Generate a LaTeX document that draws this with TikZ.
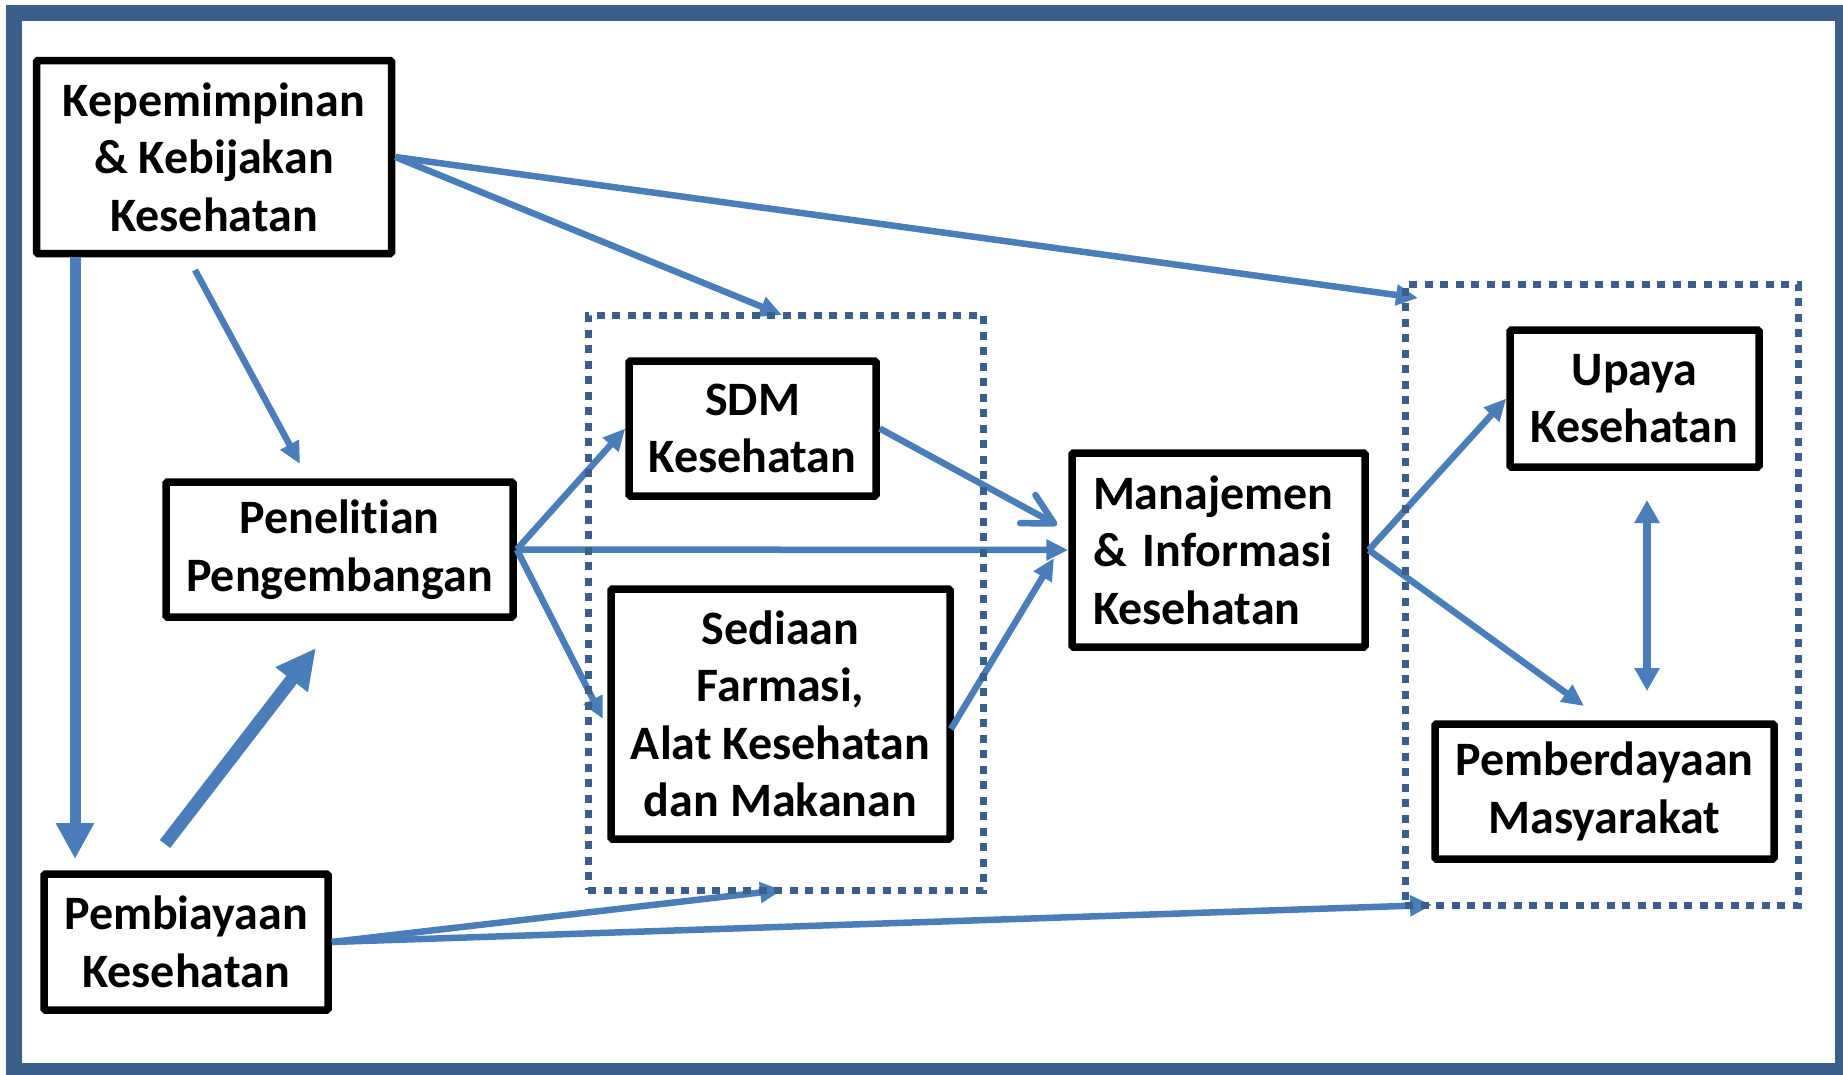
\documentclass[tikz,border=0pt]{standalone}
\usepackage{fontspec}
\setmainfont{Carlito}[Ligatures={NoCommon}]
\usetikzlibrary{arrows.meta}
\definecolor{arrowblue}{RGB}{74,126,187}
\definecolor{frameblue}{RGB}{58,95,139}
\begin{document}
\begin{tikzpicture}[x=1pt,y=-1pt,
  box/.style={draw=black, line width=7.5pt, fill=white, inner sep=0pt, rounded corners=1.5pt,
    align=center, font=\fontsize{48}{57.5}\selectfont\bfseries},
  grp/.style={draw=frameblue, line width=7pt, dash pattern=on 8pt off 7.5pt},
  conn/.style={draw=arrowblue, line width=6.5pt, -{Triangle[length=22pt,width=20pt]}},
  openconn/.style={draw=arrowblue, line width=6.5pt, -{Straight Barb[length=30pt,width=32pt,round]}},
]
\useasboundingbox (0,0) rectangle (1843,1074);
\fill[white] (0,0) rectangle (1843,1074);
\draw[frameblue, line width=16pt] (14,13) rectangle (1843,1071);

% boxes
\node[box, minimum width=355pt, minimum height=193pt] (lead) at (214,157) {Kepemimpinan\\\& Kebijakan\\Kesehatan};
\node[box, minimum width=347pt, minimum height=135pt] (res) at (339.5,549.5) {Penelitian\\Pengembangan};
\node[box, minimum width=247pt, minimum height=135pt] (sdm) at (752.5,428.5) {SDM\\Kesehatan};
\node[box, minimum width=339pt, minimum height=250pt] (sed) at (780.5,714) {Sediaan\\Farmasi,\\Alat Kesehatan\\dan Makanan};
\node[box, minimum width=293pt, minimum height=194pt, text width=251pt, align=left] (man) at (1218.5,550) {Manajemen\\\& Informasi\\Kesehatan};
\node[box, minimum width=249pt, minimum height=137pt] (upa) at (1634.5,398.5) {Upaya\\Kesehatan};
\node[box, minimum width=339pt, minimum height=135pt] (pem) at (1604.5,791.5) {Pemberdayaan\\Masyarakat};
\node[box, minimum width=284pt, minimum height=136pt] (fin) at (186,942) {Pembiayaan\\Kesehatan};

% free ends
\coordinate (t1) at (1418,298);
\coordinate (t2) at (782,315);
\coordinate (s3) at (195,270);
\coordinate (t3) at (300,464);
\coordinate (s5) at (165,844);
\coordinate (t5) at (316,648);
\coordinate (t6) at (782,890);
\coordinate (t7) at (1432,905);
\coordinate (t10) at (603,719);
\coordinate (t11) at (1057,525);
\coordinate (s12) at (951,729);
\coordinate (t12) at (1054,558);
\coordinate (t14) at (1584,706);
\coordinate (d1) at (1647,500);
\coordinate (d2) at (1647,691);

% connectors
\draw[conn] (lead.east) -- (t1);
\draw[conn] (lead.east) -- (t2);
\draw[conn] (s3) -- (t3);
\draw[draw=arrowblue, line width=11pt, -{Triangle[length=36pt,width=36pt]}] (lead.south west -| 75,0) -- (75,859);
\draw[draw=arrowblue, line width=13pt, -{Triangle[length=40pt,width=38pt]}] (s5) -- (t5);
\draw[conn] (fin.east) -- (t6);
\draw[conn] (fin.east) -- (t7);
\draw[conn] (res.east) -- (sdm.west);
\draw[conn] (res.east) -- (man.west);
\draw[conn] (res.east) -- (t10);
\draw[openconn] (sdm.east) -- (t11);
\draw[conn] (s12) -- (t12);
\draw[conn] (man.east) -- (upa.west);
\draw[conn] (man.east) -- (t14);
\draw[draw=arrowblue, line width=8pt, {Triangle[length=23pt,width=24pt]}-{Triangle[length=23pt,width=24pt]}] (d1) -- (d2);

% dotted groups
\node[grp, minimum width=395pt, minimum height=575pt, inner sep=0pt] (g1) at (785.5,602.5) {};
\node[grp, minimum width=393pt, minimum height=621pt, inner sep=0pt] (g2) at (1601.5,594.5) {};
\end{tikzpicture}
\end{document}
